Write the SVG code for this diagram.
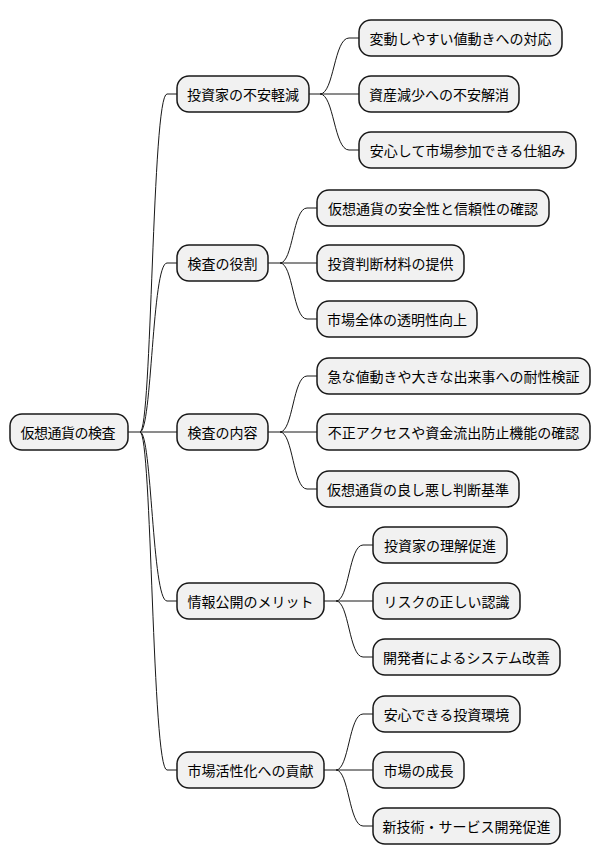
<svg xmlns="http://www.w3.org/2000/svg" width="600" height="865" viewBox="0 0 600 865">
<style>
.n rect{fill:#f1f1f1;stroke:#181818;stroke-width:1.5}
.n text{font-family:"Noto Sans CJK JP","Noto Sans",sans-serif;font-size:14px;fill:#000;text-anchor:middle;dominant-baseline:central}
#links path{fill:none;stroke:#181818;stroke-width:1}
</style>
<rect width="600" height="865" fill="#ffffff"/>
<g id="links">
<path d="M128,432 L140,432 C152,432 152,94 167,94 L177,94"/>
<path d="M140,432 C152,432 152,263 167,263 L177,263"/>
<path d="M140,432 L177,432"/>
<path d="M140,432 C152,432 152,601 167,601 L177,601"/>
<path d="M140,432 C152,432 152,770 167,770 L177,770"/>
<path d="M309,94 L320,94 C334,94 334,38 349,38 L359,38"/>
<path d="M320,94 L359,94"/>
<path d="M320,94 C334,94 334,150 349,150 L359,150"/>
<path d="M268,263 L280,263 C293,263 293,208 307,208 L317,208"/>
<path d="M280,263 L317,263"/>
<path d="M280,263 C293,263 293,319 307,319 L317,319"/>
<path d="M268,432 L280,432 C293,432 293,376 307,376 L317,376"/>
<path d="M280,432 L317,432"/>
<path d="M280,432 C293,432 293,489 307,489 L317,489"/>
<path d="M324,601 L336,601 C349,601 349,545 363,545 L373,545"/>
<path d="M336,601 L373,601"/>
<path d="M336,601 C349,601 349,657 363,657 L373,657"/>
<path d="M324,770 L336,770 C349,770 349,714 363,714 L373,714"/>
<path d="M336,770 L373,770"/>
<path d="M336,770 C349,770 349,826 363,826 L373,826"/>
</g>
<g id="root" class="n"><rect x="10" y="414" width="118" height="36" rx="12"/><text x="68" y="432" textLength="95" lengthAdjust="spacing">仮想通貨の検査</text></g>
<g id="n1" class="n"><rect x="177" y="76" width="132" height="36" rx="12"/><text x="243" y="94">投資家の不安軽減</text></g>
<g id="n2" class="n"><rect x="177" y="245" width="91" height="36" rx="12"/><text x="222.5" y="263">検査の役割</text></g>
<g id="n3" class="n"><rect x="177" y="414" width="91" height="36" rx="12"/><text x="222.5" y="432">検査の内容</text></g>
<g id="n4" class="n"><rect x="177" y="583" width="147" height="36" rx="12"/><text x="250.5" y="601">情報公開のメリット</text></g>
<g id="n5" class="n"><rect x="177" y="752" width="147" height="36" rx="12"/><text x="250.5" y="770">市場活性化への貢献</text></g>
<g id="n1a" class="n"><rect x="359" y="20" width="203" height="36" rx="12"/><text x="460.5" y="38">変動しやすい値動きへの対応</text></g>
<g id="n1b" class="n"><rect x="359" y="76" width="160" height="36" rx="12"/><text x="439" y="94">資産減少への不安解消</text></g>
<g id="n1c" class="n"><rect x="359" y="132" width="217" height="36" rx="12"/><text x="467.5" y="150">安心して市場参加できる仕組み</text></g>
<g id="n2a" class="n"><rect x="317" y="190" width="232" height="36" rx="12"/><text x="433" y="208">仮想通貨の安全性と信頼性の確認</text></g>
<g id="n2b" class="n"><rect x="317" y="245" width="147" height="36" rx="12"/><text x="390.5" y="263">投資判断材料の提供</text></g>
<g id="n2c" class="n"><rect x="317" y="301" width="160" height="36" rx="12"/><text x="397" y="319">市場全体の透明性向上</text></g>
<g id="n3a" class="n"><rect x="317" y="358" width="273" height="36" rx="12"/><text x="453.5" y="376">急な値動きや大きな出来事への耐性検証</text></g>
<g id="n3b" class="n"><rect x="317" y="414" width="273" height="36" rx="12"/><text x="453.5" y="432">不正アクセスや資金流出防止機能の確認</text></g>
<g id="n3c" class="n"><rect x="317" y="471" width="202" height="36" rx="12"/><text x="418" y="489">仮想通貨の良し悪し判断基準</text></g>
<g id="n4a" class="n"><rect x="373" y="527" width="134" height="36" rx="12"/><text x="440" y="545">投資家の理解促進</text></g>
<g id="n4b" class="n"><rect x="373" y="583" width="147" height="36" rx="12"/><text x="446.5" y="601">リスクの正しい認識</text></g>
<g id="n4c" class="n"><rect x="373" y="639" width="187" height="36" rx="12"/><text x="466.5" y="657">開発者によるシステム改善</text></g>
<g id="n5a" class="n"><rect x="373" y="696" width="147" height="36" rx="12"/><text x="446.5" y="714">安心できる投資環境</text></g>
<g id="n5b" class="n"><rect x="373" y="752" width="91" height="36" rx="12"/><text x="418.5" y="770">市場の成長</text></g>
<g id="n5c" class="n"><rect x="373" y="808" width="187" height="36" rx="12"/><text x="466.5" y="826">新技術・サービス開発促進</text></g>
</svg>
